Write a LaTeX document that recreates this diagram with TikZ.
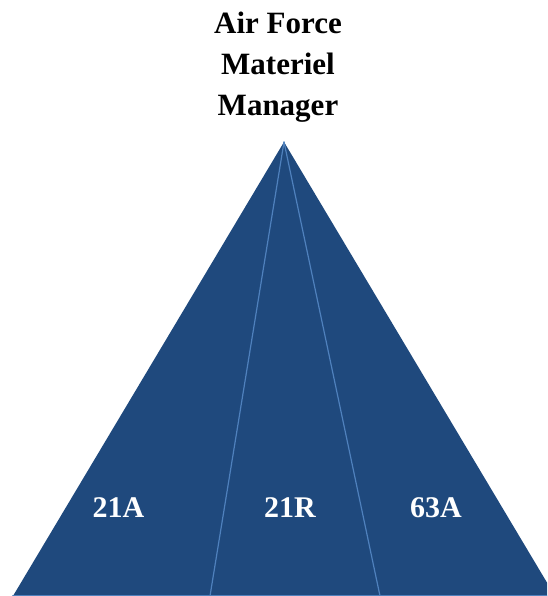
\documentclass[tikz,border=0pt]{standalone}
\usepackage{fontspec}
\setmainfont{Liberation Serif}
\definecolor{pyrfill}{RGB}{31,73,125}
\definecolor{pyrline}{RGB}{79,129,189}
\begin{document}
\begin{tikzpicture}[x=1pt,y=1pt,line cap=round,
    title/.style={align=center,inner sep=0pt,anchor=north,
      font=\fontsize{31}{41}\selectfont\bfseries},
    career/.style={inner sep=0pt,anchor=base,text=white,
      font=\fontsize{30}{36}\selectfont\bfseries}]
  % parameters
  \def\W{547}  % picture width
  \def\H{596}  % picture height

  \useasboundingbox (0,0) rectangle (\W,\H);
  \clip (0,0) rectangle (\W,\H);

  % apex and base corners
  \coordinate (top) at (284,454);
  \coordinate (bl) at (13,0);
  \coordinate (br) at (555,0);
  \coordinate (d1) at (210,0);
  \coordinate (d2) at (380,0);

  % the pyramid
  \fill[pyrfill] (top) -- (bl) -- (br) -- cycle;
  \draw[pyrline,line width=1.2pt] (top) -- (d1);
  \draw[pyrline,line width=1.2pt] (top) -- (d2);
  \draw[pyrline,line width=2pt] (bl) -- (br);

  % labels
  \node[title] (mgr) at (278,584) {Air Force\\Materiel\\Manager};
  \node[career] (a21) at (118.5,78) {21A};
  \node[career] (r21) at (290,78) {21R};
  \node[career] (a63) at (436,78) {63A};
\end{tikzpicture}
\end{document}
